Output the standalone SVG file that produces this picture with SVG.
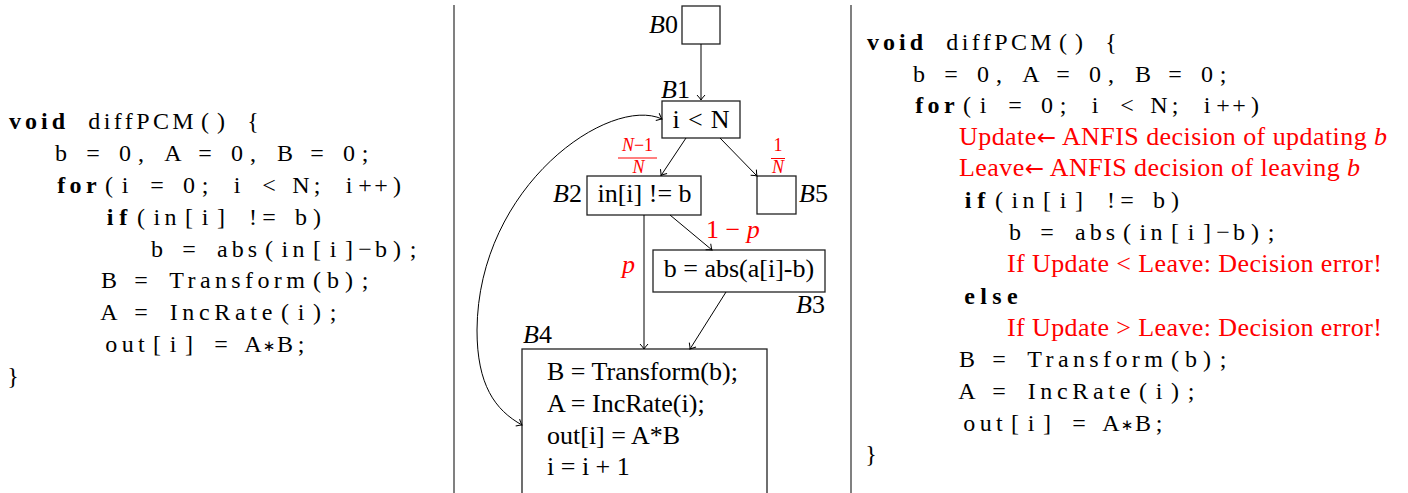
<svg xmlns="http://www.w3.org/2000/svg" width="1408" height="493" viewBox="0 0 1408 493">
<style>
text{font-family:"Liberation Serif","Times New Roman",serif;fill:#000}
.code{font-size:24px;text-anchor:middle}
.w{text-anchor:start}
.kw{font-weight:bold}
.ast{font-family:"DejaVu Sans",sans-serif;font-size:15px}
.red{fill:#ff0000;font-size:26px;text-anchor:start}
.arr{font-family:"DejaVu Sans",sans-serif;font-size:23px}
.it{font-style:italic}
.mid{font-size:26px}
.lbl{font-size:26px}
.frac{font-size:18px;fill:#ff0000}
.box{fill:#fff;stroke:#222;stroke-width:1.3}
.sep{stroke:#808080;stroke-width:2}
.edge{fill:none;stroke:#000;stroke-width:1}
</style>
<defs>
<marker id="to" viewBox="-6 -5 7 10" refX="0" refY="0" markerWidth="7" markerHeight="10" orient="auto-start-reverse" markerUnits="userSpaceOnUse">
<path d="M-5,-4 Q-1.5,-0.8 0,0 Q-1.5,0.8 -5,4" fill="none" stroke="#000" stroke-width="1"/>
</marker>
</defs>
<rect width="1408" height="493" fill="#fff"/>
<g id="separators">
<line class="sep" x1="454" y1="5" x2="454" y2="493"/>
<line class="sep" x1="851" y1="5" x2="851" y2="493"/>
</g>
<g id="code-left" class="code">
<text y="129"><tspan class="kw w" x="9" textLength="56" lengthAdjust="spacing">void</tspan><tspan class="w" x="88.3" textLength="105.4" lengthAdjust="spacing">diffPCM</tspan><tspan x="205 221 253">(){</tspan></text>
<text y="161" x="61 93 125 141 173 205 237 253 285 317 349 365">b=0,A=0,B=0;</text>
<text y="193"><tspan class="kw w" x="57.3" textLength="39.3" lengthAdjust="spacing">for</tspan><tspan x="109 125 157 189 205 237 269 301 317 349 365 381 397">(i=0;i&lt;N;i++)</tspan></text>
<text y="225"><tspan class="kw w" x="106.8" textLength="20.5" lengthAdjust="spacing">if</tspan><tspan x="141">(</tspan><tspan class="w" x="153.4" textLength="23.1" lengthAdjust="spacing">in</tspan><tspan x="189 205 221 253 269 301 317">[i]!=b)</tspan></text>
<text y="257"><tspan x="157 189">b=</tspan><tspan class="w" x="217" textLength="40" lengthAdjust="spacing">abs</tspan><tspan x="269">(</tspan><tspan class="w" x="281.4" textLength="23.1" lengthAdjust="spacing">in</tspan><tspan x="317 333 349 365 381 397 413">[i]−b);</tspan></text>
<text y="288"><tspan x="109 141">B=</tspan><tspan class="w" x="169.3" textLength="135.5" lengthAdjust="spacing">Transform</tspan><tspan x="317 333 349 365">(b);</tspan></text>
<text y="320"><tspan x="109 141">A=</tspan><tspan class="w" x="169.7" textLength="102.6" lengthAdjust="spacing">IncRate</tspan><tspan x="285 301 317 333">(i);</tspan></text>
<text y="352"><tspan class="w" x="105.3" textLength="39.4" lengthAdjust="spacing">out</tspan><tspan x="157 173 189 221 253">[i]=A</tspan><tspan class="ast" x="269" dy="-1">∗</tspan><tspan x="285 301" dy="1">B;</tspan></text>
<text y="384" x="13">}</text>
</g>
<g id="node-B0">
<rect class="box" x="682" y="6" width="38" height="38"/>
<text class="lbl" x="678" y="33" text-anchor="end"><tspan class="it">B</tspan>0</text>
</g>
<g id="node-B1">
<rect class="box" x="662" y="101" width="78" height="37"/>
<text class="mid" x="701" y="128" text-anchor="middle" textLength="57" lengthAdjust="spacing">i &lt; N</text>
<text class="lbl" x="690" y="98" text-anchor="end"><tspan class="it">B</tspan>1</text>
</g>
<g id="node-B2">
<rect class="box" x="587" y="176" width="114" height="39"/>
<text class="mid" x="644.5" y="202" text-anchor="middle">in[i] != b</text>
<text class="lbl" x="582" y="202" text-anchor="end"><tspan class="it">B</tspan>2</text>
</g>
<g id="node-B5">
<rect class="box" x="757" y="176" width="39" height="38"/>
<text class="lbl" x="799" y="202"><tspan class="it">B</tspan>5</text>
</g>
<g id="node-B3">
<rect class="box" x="653" y="250" width="172" height="42"/>
<text class="mid" x="739" y="277" text-anchor="middle">b = abs(a[i]-b)</text>
<text class="lbl" x="825" y="313" text-anchor="end"><tspan class="it">B</tspan>3</text>
</g>
<g id="node-B4">
<rect class="box" x="522" y="349" width="245" height="170"/>
<text class="lbl" x="523" y="343"><tspan class="it">B</tspan>4</text>
<text class="mid" x="547" y="380">B = Transform(b);</text>
<text class="mid" x="547" y="412">A = IncRate(i);</text>
<text class="mid" x="547" y="444">out[i] = A*B</text>
<text class="mid" x="547" y="475">i = i + 1</text>
</g>
<g id="connectors">
<path class="edge" d="M701,44 L701,100" marker-end="url(#to)"/>
<path class="edge" d="M686,138 L661,175.5" marker-end="url(#to)"/>
<path class="edge" d="M720,138 L757,176" marker-end="url(#to)"/>
<path class="edge" d="M670,215 L712,250" marker-end="url(#to)"/>
<path class="edge" d="M644,215 L644,349" marker-end="url(#to)"/>
<path class="edge" d="M726,292 L690,349" marker-end="url(#to)"/>
<path class="edge" d="M522,425 C495,410 477,385 477,330 C478,185 610,95 662,119" marker-start="url(#to)" marker-end="url(#to)"/>
</g>
<g id="edge-labels">
<text class="frac" x="637.5" y="151" text-anchor="middle"><tspan class="it">N</tspan>−1</text>
<line x1="618" y1="158" x2="657" y2="158" stroke="#ff0000" stroke-width="1"/>
<text class="frac it" x="638.5" y="173" text-anchor="middle">N</text>
<text class="frac" x="778" y="151" text-anchor="middle">1</text>
<line x1="771" y1="158.5" x2="785" y2="158.5" stroke="#ff0000" stroke-width="1"/>
<text class="frac it" x="778" y="173" text-anchor="middle">N</text>
<text class="red" x="706" y="238" font-size="25">1 − <tspan class="it">p</tspan></text>
<text class="red it" x="622" y="273">p</text>
</g>
<g id="code-right" class="code">
<text y="50"><tspan class="kw w" x="867" textLength="56" lengthAdjust="spacing">void</tspan><tspan class="w" x="946.3" textLength="105.4" lengthAdjust="spacing">diffPCM</tspan><tspan x="1063 1079 1111">(){</tspan></text>
<text y="82" x="919 951 983 999 1031 1063 1095 1111 1143 1175 1207 1223">b=0,A=0,B=0;</text>
<text y="113"><tspan class="kw w" x="915.3" textLength="39.3" lengthAdjust="spacing">for</tspan><tspan x="967 983 1015 1047 1063 1095 1127 1159 1175 1207 1223 1239 1255">(i=0;i&lt;N;i++)</tspan></text>
<text class="red" x="959" y="145" textLength="428" lengthAdjust="spacing">Update<tspan class="arr">←</tspan> ANFIS decision of updating <tspan class="it">b</tspan></text>
<text class="red" x="959" y="176" textLength="401" lengthAdjust="spacing">Leave<tspan class="arr">←</tspan> ANFIS decision of leaving <tspan class="it">b</tspan></text>
<text y="208"><tspan class="kw w" x="964.8" textLength="20.5" lengthAdjust="spacing">if</tspan><tspan x="999">(</tspan><tspan class="w" x="1011.4" textLength="23.1" lengthAdjust="spacing">in</tspan><tspan x="1047 1063 1079 1111 1127 1159 1175">[i]!=b)</tspan></text>
<text y="240"><tspan x="1015 1047">b=</tspan><tspan class="w" x="1075" textLength="40" lengthAdjust="spacing">abs</tspan><tspan x="1127">(</tspan><tspan class="w" x="1139.4" textLength="23.1" lengthAdjust="spacing">in</tspan><tspan x="1175 1191 1207 1223 1239 1255 1271">[i]−b);</tspan></text>
<text class="red" x="1007" y="272" textLength="375" lengthAdjust="spacing">If Update &lt; Leave: Decision error!</text>
<text class="kw w" x="964.3" y="304" textLength="53.4" lengthAdjust="spacing">else</text>
<text class="red" x="1007" y="336" textLength="375" lengthAdjust="spacing">If Update &gt; Leave: Decision error!</text>
<text y="367"><tspan x="967 999">B=</tspan><tspan class="w" x="1027.3" textLength="135.5" lengthAdjust="spacing">Transform</tspan><tspan x="1175 1191 1207 1223">(b);</tspan></text>
<text y="399"><tspan x="967 999">A=</tspan><tspan class="w" x="1027.7" textLength="102.6" lengthAdjust="spacing">IncRate</tspan><tspan x="1143 1159 1175 1191">(i);</tspan></text>
<text y="431"><tspan class="w" x="963.3" textLength="39.4" lengthAdjust="spacing">out</tspan><tspan x="1015 1031 1047 1079 1111">[i]=A</tspan><tspan class="ast" x="1127" dy="-1">∗</tspan><tspan x="1143 1159" dy="1">B;</tspan></text>
<text y="462" x="871">}</text>
</g>
</svg>
